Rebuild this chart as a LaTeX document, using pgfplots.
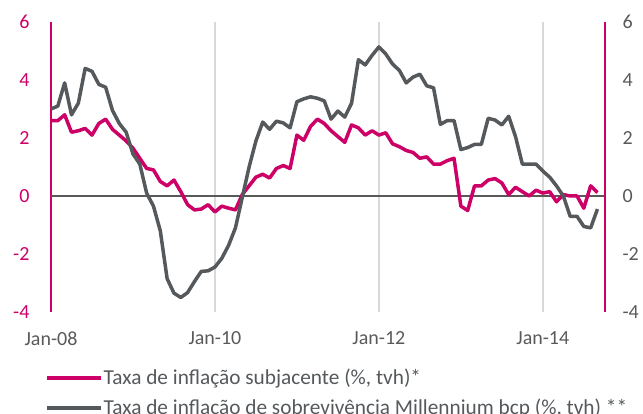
\documentclass[border=0pt]{standalone}
\usepackage{fontspec}
\setmainfont{Carlito}
\usepackage{pgfplots}
\pgfplotsset{compat=1.18}
\usepackage{pgfplotstable}
\definecolor{bcpmag}{RGB}{204,0,102}
\definecolor{bcpgray}{RGB}{85,89,92}
\definecolor{labgray}{RGB}{89,89,89}
\definecolor{gridgray}{RGB}{217,217,217}
\pgfplotstableread{
m core surv
0 2.6 3.0
1 2.6 3.1
2 2.8 3.9
3 2.2 2.8
4 2.25 3.2
5 2.33 4.4
6 2.1 4.3
7 2.5 3.85
8 2.65 3.75
9 2.3 2.95
10 2.1 2.5
11 1.9 2.2
12 1.65 1.45
13 1.3 1.1
14 0.95 0.1
15 0.9 -0.35
16 0.5 -1.2
17 0.35 -2.85
18 0.55 -3.35
19 0.15 -3.5
20 -0.3 -3.33
21 -0.48 -2.95
22 -0.45 -2.6
23 -0.3 -2.58
24 -0.55 -2.45
25 -0.35 -2.15
26 -0.42 -1.7
27 -0.48 -1.1
28 0.05 -0.05
29 0.35 1.0
30 0.65 1.9
31 0.75 2.55
32 0.62 2.3
33 0.95 2.58
34 1.05 2.52
35 0.95 2.35
36 2.1 3.25
37 1.92 3.35
38 2.4 3.42
39 2.65 3.37
40 2.5 3.28
41 2.25 2.65
42 2.05 2.93
43 1.85 2.72
44 2.45 3.2
45 2.35 4.7
46 2.1 4.52
47 2.25 4.85
48 2.1 5.14
49 2.18 4.9
50 1.8 4.55
51 1.7 4.33
52 1.57 3.9
53 1.5 4.1
54 1.3 4.2
55 1.35 3.8
56 1.1 3.73
57 1.1 2.47
58 1.22 2.6
59 1.3 2.6
60 -0.35 1.6
61 -0.5 1.67
62 0.35 1.78
63 0.35 1.78
64 0.55 2.68
65 0.6 2.62
66 0.45 2.45
67 0.05 2.75
68 0.3 2.05
69 0.15 1.1
70 0.0 1.1
71 0.2 1.1
72 0.1 0.86
73 0.15 0.65
74 -0.2 0.35
75 0.05 0.0
76 0.0 -0.7
77 0.0 -0.7
78 -0.42 -1.05
79 0.35 -1.1
80 0.12 -0.45
}\datatable
\begin{document}
\begin{tikzpicture}
\path[use as bounding box] (-51pt,-102pt) rectangle (592pt,312pt);
\begin{axis}[
  at={(0pt,0pt)}, anchor=south west,
  scale only axis, width=554pt, height=290pt,
  xmin=0, xmax=81.1, ymin=-4, ymax=6,
  axis y line*=left, axis x line*=bottom,
  x axis line style={draw=none},
  y axis line style={draw=bcpmag, line width=1.6pt, -},
  xtick={0,24,48,72},
  xticklabels={Jan-08,Jan-10,Jan-12,Jan-14},
  ytick={-4,-2,0,2,4,6},
  yticklabels={-4,-2,0,2,4,6},
  major tick length=0pt,
  xmajorgrids, grid style={gridgray, line width=1.4pt},
  x tick label style={font=\fontsize{20}{22}\selectfont, text=labgray, yshift=-16pt},
  y tick label style={font=\fontsize{20}{22}\selectfont, text=bcpmag, xshift=-18pt},
  legend style={at={(axis description cs:-0.0108,-0.279)}, anchor=west, draw=none, fill=none,
    font=\fontsize{21.3}{23}\selectfont, text=bcpgray, row sep=11pt, inner sep=0pt,
    nodes={inner sep=1pt}},
  legend cell align=left,
  legend image code/.code={\draw[#1, line width=3.5pt] (0pt,0pt) -- (54pt,0pt);},
  clip=false,
]
\addplot[labgray, line width=1.4pt, forget plot] coordinates {(0,0) (81.1,0)};
\addplot[bcpmag, line width=3.5pt, line join=round] table[x=m, y=core] {\datatable};
\addlegendentry{Taxa de inflação subjacente (\%, tvh)*}
\addplot[bcpgray, line width=3.5pt, line join=round] table[x=m, y=surv] {\datatable};
\addlegendentry{Taxa de inflação de sobrevivência Millennium bcp (\%, tvh) **}
\end{axis}
\begin{axis}[
  at={(0pt,0pt)}, anchor=south west,
  scale only axis, width=554pt, height=290pt,
  xmin=0, xmax=81.1, ymin=-4, ymax=6,
  axis y line*=right, axis x line=none,
  y axis line style={draw=bcpmag, line width=1.6pt, -},
  ytick={-4,-2,0,2,4,6},
  yticklabels={-4,-2,0,2,4,6},
  major tick length=0pt,
  y tick label style={font=\fontsize{20}{22}\selectfont, text=labgray, xshift=14pt},
]
\end{axis}
\end{tikzpicture}
\end{document}
